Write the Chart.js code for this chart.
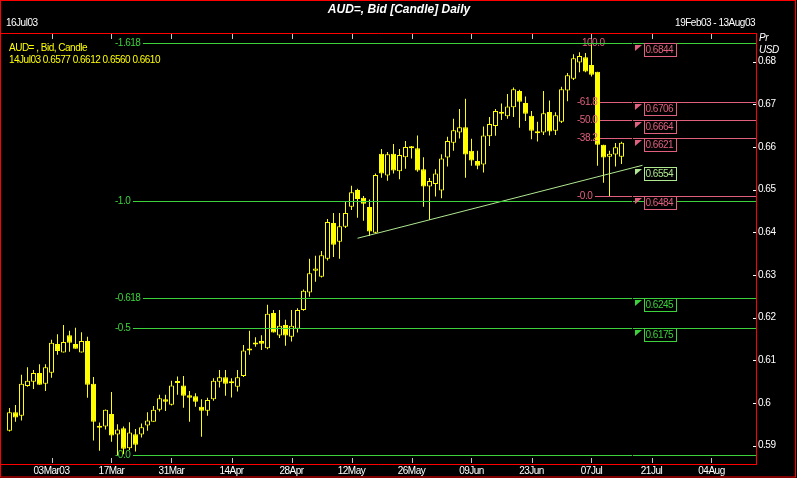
<!DOCTYPE html>
<html>
<head>
<meta charset="utf-8">
<title>AUD=, Bid [Candle] Daily</title>
<script src="https://cdn.jsdelivr.net/npm/chart.js@4.4.0/dist/chart.umd.min.js"></script>
<style>
  html, body { margin: 0; padding: 0; background: #000; }
  #wrap { width: 797px; height: 478px; background: #000; }
</style>
</head>
<body>
<div id="wrap"><canvas id="chart-1" width="797" height="478"></canvas></div>
<script>
// daily candles 20Feb03 .. 14Jul03, x slot = weekday count from 19Feb03
const firstSlot = 1;
const open = [
  0.5935, 0.5978, 0.5970, 0.6040, 0.6050, 0.6070, 0.6045, 0.6071, 0.6138, 0.6118,
  0.6159, 0.6138, 0.6118, 0.6145, 0.6045, 0.5946, 0.5945, 0.5974, 0.5926, 0.5941,
  0.5894, 0.5927, 0.5926, 0.5947, 0.5956, 0.5984, 0.6009, 0.5996, 0.6048, 0.6041,
  0.6018, 0.6016, 0.5991, 0.5982, 0.6009, 0.6050, 0.6060, 0.6047, 0.6038, 0.6063,
  0.6127, 0.6141, 0.6145, 0.6128, 0.6211, 0.6158, 0.6183, 0.6155, 0.6174, 0.6218,
  0.6259, 0.6310, 0.6296, 0.6338, 0.6422, 0.6378, 0.6413, 0.6460, 0.6499, 0.6481,
  0.6459, 0.6399, 0.6584, 0.6533, 0.6584, 0.6543, 0.6576, 0.6597, 0.6597, 0.6548,
  0.6507, 0.6513, 0.6498, 0.6575, 0.6610, 0.6634, 0.6646, 0.6591, 0.6567, 0.6559,
  0.6625, 0.6649, 0.6678, 0.6672, 0.6693, 0.6731, 0.6703, 0.6673, 0.6636, 0.6634,
  0.6682, 0.6638, 0.6659, 0.6732, 0.6760, 0.6798, 0.6810, 0.6792, 0.6776, 0.6605,
  0.6577, 0.6582, 0.6577
];
const high = [
  0.5988, 0.5995, 0.6066, 0.6084, 0.6077, 0.6091, 0.6091, 0.6148, 0.6161, 0.6183,
  0.6169, 0.6176, 0.6166, 0.6155, 0.6061, 0.5954, 0.5985, 0.6026, 0.5950, 0.5945,
  0.5955, 0.5939, 0.5952, 0.5978, 0.5993, 0.6019, 0.6019, 0.6052, 0.6062, 0.6063,
  0.6028, 0.6023, 0.6009, 0.6012, 0.6058, 0.6077, 0.6077, 0.6058, 0.6077, 0.6136,
  0.6169, 0.6154, 0.6159, 0.6230, 0.6218, 0.6218, 0.6195, 0.6218, 0.6222, 0.6266,
  0.6338, 0.6345, 0.6356, 0.6431, 0.6445, 0.6445, 0.6472, 0.6509, 0.6502, 0.6485,
  0.6477, 0.6538, 0.6595, 0.6588, 0.6607, 0.6595, 0.6614, 0.6602, 0.6627, 0.6576,
  0.6527, 0.6548, 0.6583, 0.6624, 0.6666, 0.6689, 0.6713, 0.6619, 0.6591, 0.6648,
  0.6670, 0.6689, 0.6702, 0.6724, 0.6739, 0.6734, 0.6718, 0.6684, 0.6659, 0.6731,
  0.6709, 0.6681, 0.6741, 0.6773, 0.6817, 0.6822, 0.6820, 0.6844, 0.6776, 0.6605,
  0.6591, 0.6609, 0.6612
];
const low = [
  0.5933, 0.5956, 0.5959, 0.6038, 0.6033, 0.6043, 0.6028, 0.6059, 0.6113, 0.6118,
  0.6120, 0.6127, 0.6118, 0.6012, 0.5912, 0.5888, 0.5938, 0.5909, 0.5877, 0.5880,
  0.5890, 0.5886, 0.5919, 0.5935, 0.5956, 0.5980, 0.5981, 0.5994, 0.6019, 0.5989,
  0.5956, 0.5991, 0.5921, 0.5970, 0.6005, 0.6036, 0.6017, 0.6013, 0.6027, 0.6061,
  0.6113, 0.6132, 0.6124, 0.6126, 0.6165, 0.6152, 0.6134, 0.6144, 0.6165, 0.6216,
  0.6249, 0.6284, 0.6294, 0.6334, 0.6342, 0.6338, 0.6410, 0.6452, 0.6434, 0.6427,
  0.6391, 0.6398, 0.6528, 0.6521, 0.6538, 0.6524, 0.6549, 0.6573, 0.6542, 0.6460,
  0.6429, 0.6484, 0.6480, 0.6554, 0.6591, 0.6620, 0.6528, 0.6556, 0.6548, 0.6540,
  0.6602, 0.6626, 0.6663, 0.6666, 0.6670, 0.6645, 0.6661, 0.6618, 0.6613, 0.6628,
  0.6627, 0.6628, 0.6656, 0.6707, 0.6757, 0.6775, 0.6775, 0.6765, 0.6556, 0.6516,
  0.6484, 0.6554, 0.6560
];
const close = [
  0.5978, 0.5966, 0.6045, 0.6052, 0.6070, 0.6043, 0.6084, 0.6141, 0.6122, 0.6143,
  0.6141, 0.6127, 0.6145, 0.6043, 0.5956, 0.5942, 0.5984, 0.5924, 0.5938, 0.5893,
  0.5931, 0.5902, 0.5943, 0.5959, 0.5984, 0.6011, 0.6003, 0.6041, 0.6047, 0.6017,
  0.6012, 0.6003, 0.5982, 0.6007, 0.6052, 0.6060, 0.6045, 0.6046, 0.6060, 0.6123,
  0.6123, 0.6137, 0.6139, 0.6209, 0.6165, 0.6181, 0.6158, 0.6181, 0.6218, 0.6263,
  0.6304, 0.6315, 0.6346, 0.6424, 0.6371, 0.6414, 0.6445, 0.6494, 0.6478, 0.6467,
  0.6402, 0.6534, 0.6538, 0.6583, 0.6545, 0.6581, 0.6600, 0.6598, 0.6545, 0.6507,
  0.6520, 0.6538, 0.6573, 0.6614, 0.6639, 0.6646, 0.6582, 0.6568, 0.6556, 0.6627,
  0.6654, 0.6684, 0.6680, 0.6695, 0.6735, 0.6706, 0.6678, 0.6638, 0.6632, 0.6679,
  0.6636, 0.6674, 0.6735, 0.6768, 0.6808, 0.6813, 0.6777, 0.6769, 0.6605, 0.6575,
  0.6584, 0.6599, 0.6610
];

const xTickSlots = [8, 18, 28, 38, 48, 58, 68, 78, 88, 98, 108, 118];
const xTickLabels = ["03Mar03", "17Mar", "31Mar", "14Apr", "28Apr", "12May",
                     "26May", "09Jun", "23Jun", "07Jul", "21Jul", "04Aug"];
const yTicks = [0.59, 0.60, 0.61, 0.62, 0.63, 0.64, 0.65, 0.66, 0.67, 0.68];

// fibonacci studies
const fibGreen = [0.5877, 0.6175, 0.6245, 0.6473, 0.6844];
const fibGreenLabels = ["-0.0", "-0.5", "-0.618", "-1.0", "-1.618"];
const fibPink = [0.6484, 0.6621, 0.6664, 0.6706, 0.6844];
const fibPinkLabels = ["-0.0", "-38.2", "-50.0", "-61.8", "100.0"];

// trend line
const trendSlots = [59, 106.5];
const trendValues = [0.6386, 0.6557];

// price boxes on the right
const boxValues = [0.6844, 0.6706, 0.6664, 0.6621, 0.6554, 0.6484, 0.6245, 0.6175];
const boxKinds = ["pink", "pink", "pink", "pink", "trend", "pink", "green", "green"];

const YELLOW = "#ffff00";
const GREEN = "#3cd23c";
const PINK = "#e0607e";
const PALE = "#b0e890";
const RED = "#ff0000";
const FONT = "'Liberation Sans', Arial, sans-serif";
const kindColor = { pink: PINK, green: GREEN, trend: PALE };

const slots = open.map((_, i) => i + firstSlot);
const isUp = open.map((o, i) => close[i] >= o);

// anchors in slot units
const greenLabelSlot = 18.6;
const pinkLabelSlot = 95.6;
const gapSlot = 104.75;
const markSlot = 105.3;
const boxSlot = 106.75;

const overlay = {
  id: "overlay",
  beforeDraw(chart) {
    // tight pixel font look for every label, axis ticks included
    chart.ctx.letterSpacing = "-0.5px";
  },
  beforeDatasetsDraw(chart) {
    const { ctx, chartArea: a, scales: { x } } = chart;
    ctx.save();
    ctx.strokeStyle = "#c8c8c8";
    ctx.lineWidth = 1;
    ctx.beginPath();
    xTickSlots.forEach(s => {
      const tx = Math.round(x.getPixelForValue(s)) + 0.5;
      ctx.moveTo(tx, a.top + 1); ctx.lineTo(tx, a.top + 6);
      ctx.moveTo(tx, a.bottom - 6); ctx.lineTo(tx, a.bottom - 1);
    });
    ctx.stroke();
    ctx.restore();
  },
  afterDatasetsDraw(chart) {
    const { ctx, chartArea: a, scales: { x, y } } = chart;
    const gapX = Math.round(x.getPixelForValue(gapSlot));
    ctx.save();
    ctx.font = "10px " + FONT;
    ctx.textBaseline = "middle";
    ctx.lineWidth = 1;

    function level(v, label, lx, color) {
      const yy = Math.round(y.getPixelForValue(v)) + 0.5;
      const w = ctx.measureText(label).width;
      ctx.fillStyle = color;
      ctx.strokeStyle = color;
      ctx.fillText(label, lx, yy);
      const start = Math.round(lx + w + 3);
      ctx.beginPath();
      if (start < gapX) {
        ctx.moveTo(start, yy); ctx.lineTo(gapX, yy);
        ctx.moveTo(gapX + 1, yy);
      } else {
        ctx.moveTo(start, yy);
      }
      ctx.lineTo(a.right, yy);
      ctx.stroke();
    }

    const px = Math.round(x.getPixelForValue(pinkLabelSlot));
    fibPink.forEach((v, i) => {
      const lx = fibPinkLabels[i] === "100.0" ? px + 5 : px;
      level(v, fibPinkLabels[i], lx, PINK);
    });
    const gx = Math.round(x.getPixelForValue(greenLabelSlot));
    fibGreen.forEach((v, i) => level(v, fibGreenLabels[i], gx, GREEN));

    // price boxes
    const bx = Math.round(x.getPixelForValue(boxSlot)) + 0.5;
    const mx = Math.round(x.getPixelForValue(markSlot));
    boxValues.forEach((v, i) => {
      const c = kindColor[boxKinds[i]];
      const top = Math.round(y.getPixelForValue(v)) + 0.5;
      ctx.fillStyle = "#000";
      ctx.fillRect(bx, top, 32, 13);
      ctx.fillStyle = c;
      ctx.fillText(v.toFixed(4), bx + 1, top + 7);
      ctx.strokeStyle = c;
      ctx.strokeRect(bx, top, 32, 13);
      ctx.beginPath();
      ctx.moveTo(mx, top + 1.5);
      ctx.lineTo(mx + 7, top + 1.5);
      ctx.lineTo(mx, top + 7.5);
      ctx.closePath();
      ctx.fill();
    });
    ctx.restore();
  },
  afterDraw(chart) {
    const { ctx, chartArea: a, scales: { y } } = chart;
    const W = chart.width;
    ctx.save();
    ctx.strokeStyle = RED;
    ctx.lineWidth = 1;
    ctx.beginPath();
    ctx.moveTo(0, a.top + 0.5); ctx.lineTo(a.right + 1, a.top + 0.5);
    ctx.moveTo(a.right + 0.5, a.top); ctx.lineTo(a.right + 0.5, a.bottom + 1);
    ctx.moveTo(0, a.bottom + 0.5); ctx.lineTo(a.right + 1, a.bottom + 0.5);
    ctx.stroke();
    ctx.strokeRect(0.5, 0.5, W - 2, chart.height - 1.5);

    // y tick dashes
    ctx.strokeStyle = "#ffffff";
    ctx.beginPath();
    yTicks.forEach(v => {
      const ty = Math.round(y.getPixelForValue(v)) + 0.5;
      ctx.moveTo(a.right - 3, ty); ctx.lineTo(a.right, ty);
    });
    ctx.stroke();

    // header texts
    ctx.textBaseline = "middle";
    ctx.fillStyle = "#ffffff";
    ctx.letterSpacing = "0px";
    ctx.font = "bold italic 12px " + FONT;
    ctx.textAlign = "center";
    ctx.fillText("AUD=, Bid [Candle] Daily", 399, 10);
    ctx.letterSpacing = "-0.5px";
    ctx.font = "10px " + FONT;
    ctx.textAlign = "left";
    ctx.fillText("16Jul03", 6, 23);
    ctx.textAlign = "right";
    ctx.fillText("19Feb03 - 13Aug03", a.right - 1, 23);
    ctx.textAlign = "left";
    ctx.font = "italic 10px " + FONT;
    ctx.fillText("Pr", a.right + 3, 38);
    ctx.fillText("USD", a.right + 3, 50);

    ctx.font = "10px " + FONT;
    ctx.fillStyle = YELLOW;
    const n = open.length - 1;
    ctx.fillText("AUD= , Bid, Candle", 9, 48);
    ctx.fillText("14Jul03 " + open[n].toFixed(4) + " " + high[n].toFixed(4) + " " +
      low[n].toFixed(4) + " " + close[n].toFixed(4), 9, 60);
    ctx.restore();
  }
};

const ctx1 = document.getElementById("chart-1").getContext("2d");
const candleChart = new Chart(ctx1, {
  type: "bar",
  data: {
    datasets: [
      {
        label: "wick",
        data: slots.map((s, i) => ({ x: s, y: [low[i], high[i]] })),
        backgroundColor: YELLOW,
        borderWidth: 0,
        barThickness: 1,
        minBarLength: 1,
        grouped: false,
        inflateAmount: 0,
        order: 3,
      },
      {
        label: "body",
        data: slots.map((s, i) => ({
          x: s,
          y: [Math.min(open[i], close[i]), Math.max(open[i], close[i])],
        })),
        backgroundColor: isUp.map(u => (u ? "#000000" : YELLOW)),
        borderColor: YELLOW,
        borderWidth: 1,
        borderSkipped: false,
        barThickness: 5,
        minBarLength: 2,
        grouped: false,
        inflateAmount: 0,
        order: 2,
      },
      {
        type: "line",
        label: "trend",
        data: trendSlots.map((s, i) => ({ x: s, y: trendValues[i] })),
        borderColor: PALE,
        borderWidth: 1,
        pointRadius: 0,
        order: 1,
      },
    ],
  },
  options: {
    responsive: false,
    animation: false,
    layout: { padding: { top: 33, left: 0, right: 0, bottom: 0 } },
    plugins: { legend: { display: false }, tooltip: { enabled: false } },
    scales: {
      x: {
        type: "linear",
        offset: false,
        min: -0.5 - 0.5 / 6,
        max: 125.5 - 0.5 / 6,
        grid: { display: false, drawTicks: false },
        border: { display: false },
        afterBuildTicks: s => { s.ticks = xTickSlots.map(v => ({ value: v })); },
        afterFit: s => { s.height = 14; s.paddingLeft = 0; s.paddingRight = 0; },
        ticks: {
          autoSkip: false,
          maxRotation: 0,
          padding: 1,
          color: "#ffffff",
          font: { family: FONT, size: 10 },
          callback: v => xTickLabels[xTickSlots.indexOf(v)],
        },
      },
      y: {
        position: "right",
        min: 0.5857,
        max: 0.6867,
        grid: { display: false, drawTicks: false },
        border: { display: false },
        afterBuildTicks: s => { s.ticks = yTicks.map(v => ({ value: v })); },
        afterFit: s => { s.width = 41; s.paddingTop = 0; s.paddingBottom = 0; },
        ticks: {
          padding: 2,
          color: "#ffffff",
          font: { family: FONT, size: 10 },
          callback: v => String(+v.toFixed(2)),
        },
      },
    },
  },
  plugins: [overlay],
});
</script>
</body>
</html>
